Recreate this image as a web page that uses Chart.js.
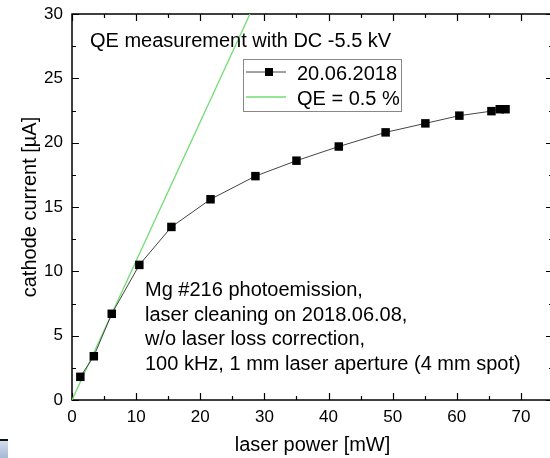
<!DOCTYPE html>
<html>
<head>
<meta charset="utf-8">
<script src="https://cdn.jsdelivr.net/npm/chart.js@4.4.1/dist/chart.umd.min.js"></script>
<style>
  html, body { margin: 0; padding: 0; background: #fff; overflow: hidden; }
  #wrap { position: relative; width: 562px; height: 458px; }
  #corner {
    position: absolute; left: 0; top: 439px; width: 8px; height: 19px;
    border-top: 2px solid #111;
    background: linear-gradient(#d2dcec, #9fb3d2);
  }
</style>
</head>
<body>
<div id="wrap">
  <canvas id="chart" width="562" height="458"></canvas>
  <div id="corner"></div>
</div>
<script>
/* ── Data ── */
const powerMW   = [1.3, 3.4, 6.2, 10.5, 15.5, 21.6, 28.6, 35.0, 41.6, 48.9, 55.1, 60.4, 65.4, 66.7, 67.6];
const currentUA = [1.8, 3.4, 6.7, 10.5, 13.45, 15.6, 17.4, 18.6, 19.7, 20.8, 21.5, 22.1, 22.45, 22.6, 22.6];

/* QE = 0.5 % reference line */
const qeX = [0, 27.75];
const qeY = [0, 30];

const seriesLabels = ['20.06.2018', 'QE = 0.5 %'];
const titleText = 'QE measurement with DC -5.5 kV';
const noteLines = [
  'Mg #216 photoemission,',
  'laser cleaning on 2018.06.08,',
  'w/o laser loss correction,',
  '100 kHz, 1 mm laser aperture (4 mm spot)',
];

const FONT = "'Liberation Sans', Arial, sans-serif";
const GREEN = '#72dc72';

/* Frame, inward ticks on all four sides, legend and notes */
const decor = {
  id: 'decor',
  beforeDatasetsDraw(chart) {
    const { ctx, chartArea: a, scales: { x, y } } = chart;
    ctx.save();
    ctx.strokeStyle = '#000';
    ctx.lineWidth = 1.5;
    ctx.strokeRect(a.left, a.top, a.right - a.left, a.bottom - a.top);
    ctx.lineWidth = 1.2;
    ctx.beginPath();
    for (let v = 0; v <= 75; v += 5) {
      const px = Math.round(x.getPixelForValue(v)) + 0.5;
      const len = v % 10 === 0 ? 7 : 4;
      ctx.moveTo(px, a.bottom); ctx.lineTo(px, a.bottom - len);
      ctx.moveTo(px, a.top); ctx.lineTo(px, a.top + len);
    }
    for (let v = 0; v <= 30; v += 2.5) {
      const py = Math.round(y.getPixelForValue(v)) + 0.5;
      const len = v % 5 === 0 ? 7 : 4;
      ctx.moveTo(a.left, py); ctx.lineTo(a.left + len, py);
      ctx.moveTo(a.right, py); ctx.lineTo(a.right - len, py);
    }
    ctx.stroke();
    ctx.restore();
  },
  afterDatasetsDraw(chart) {
    const { ctx } = chart;
    ctx.save();
    ctx.fillStyle = '#000';
    ctx.font = '20px ' + FONT;
    ctx.textBaseline = 'alphabetic';
    ctx.textAlign = 'left';

    ctx.fillText(titleText, 90, 47);
    noteLines.forEach((t, i) => ctx.fillText(t, 145, 296 + i * 24.5));

    /* legend box */
    ctx.fillStyle = '#fff';
    ctx.fillRect(243, 59, 159, 53);
    ctx.strokeStyle = '#888';
    ctx.lineWidth = 1;
    ctx.strokeRect(243.5, 59.5, 158, 52);

    ctx.strokeStyle = '#444';
    ctx.beginPath(); ctx.moveTo(246, 72); ctx.lineTo(286, 72); ctx.stroke();
    ctx.fillStyle = '#000';
    ctx.fillRect(265, 68, 8, 8);
    ctx.strokeStyle = GREEN;
    ctx.lineWidth = 1.3;
    ctx.beginPath(); ctx.moveTo(246, 97); ctx.lineTo(286, 97); ctx.stroke();

    ctx.fillStyle = '#000';
    ctx.fillText(seriesLabels[0], 297, 80);
    ctx.fillText(seriesLabels[1], 297, 104.5);
    ctx.restore();
  },
};

Chart.defaults.font.family = FONT;
Chart.defaults.color = '#000';

new Chart(document.getElementById('chart'), {
  type: 'line',
  data: {
    datasets: [
      {
        label: seriesLabels[1],
        data: qeX.map((v, i) => ({ x: v, y: qeY[i] })),
        borderColor: GREEN,
        borderWidth: 1.3,
        pointRadius: 0,
        order: 2,
      },
      {
        label: seriesLabels[0],
        data: powerMW.map((v, i) => ({ x: v, y: currentUA[i] })),
        borderColor: '#444',
        borderWidth: 1,
        pointStyle: 'rect',
        pointRadius: 6,
        pointBackgroundColor: '#000',
        pointBorderWidth: 0,
        order: 1,
      },
    ],
  },
  options: {
    responsive: false,
    animation: false,
    layout: { padding: { left: 0, right: 9, top: 14, bottom: 0 } },
    plugins: { legend: { display: false }, tooltip: { enabled: false } },
    scales: {
      x: {
        type: 'linear',
        min: 0, max: 75,
        grid: { display: false, drawTicks: false },
        border: { display: false },
        ticks: { stepSize: 10, includeBounds: false, padding: 7, autoSkip: false, maxRotation: 0, font: { size: 17 } },
        title: { display: true, text: 'laser power [mW]', font: { size: 20 }, padding: { top: 0, bottom: 1 } },
        afterFit: s => { s.height = 58; s.paddingLeft = 0; s.paddingRight = 0; },
      },
      y: {
        min: 0, max: 30,
        grid: { display: false, drawTicks: false },
        border: { display: false },
        ticks: { stepSize: 5, padding: 9, font: { size: 17 } },
        title: { display: true, text: 'cathode current [µA]', font: { size: 20 }, padding: { top: 18, bottom: 0 } },
        afterFit: s => { s.width = 72; s.paddingTop = 0; s.paddingBottom = 0; },
      },
    },
  },
  plugins: [decor],
});
</script>
</body>
</html>
